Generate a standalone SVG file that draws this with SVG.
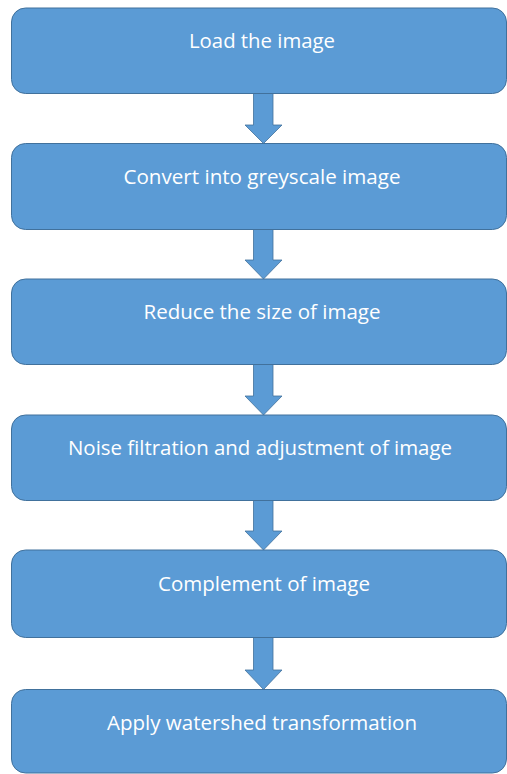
<svg xmlns="http://www.w3.org/2000/svg" width="507" height="774" viewBox="0 0 507 774">
<style>
.box{fill:#5B9BD5;stroke:#41719C;stroke-width:1}
.arr{fill:#5B9BD5;stroke:#41719C;stroke-width:0.8}
.t{font-family:"Open Sans","Noto Sans","Liberation Sans",sans-serif;font-size:19.5px;fill:#FFFFFF;text-anchor:middle}
</style>
<rect width="507" height="774" fill="#FFFFFF"/>
<g id="connectors">
<path class="arr" d="M253.5,93.5 H273 V125 H282 L263.5,143.5 L245,125 H253.5 Z"/>
<path class="arr" d="M253.5,229.5 H273 V260 H282 L263.5,279 L245,260 H253.5 Z"/>
<path class="arr" d="M253.5,364.5 H273 V396 H282 L263.5,415 L245,396 H253.5 Z"/>
<path class="arr" d="M253.5,500.5 H273 V531 H282 L263.5,550 L245,531 H253.5 Z"/>
<path class="arr" d="M253.5,637.5 H273 V670 H282 L263.5,689.5 L245,670 H253.5 Z"/>
</g>
<g id="n1"><rect class="box" x="11.5" y="8" width="495" height="85.5" rx="14"/><text class="t" x="262" y="48" textLength="146" lengthAdjust="spacingAndGlyphs">Load the image</text></g>
<g id="n2"><rect class="box" x="11.5" y="143.5" width="495" height="86" rx="14"/><text class="t" x="262" y="183.5" textLength="277" lengthAdjust="spacingAndGlyphs">Convert into greyscale image</text></g>
<g id="n3"><rect class="box" x="11.5" y="279" width="495" height="85.5" rx="14"/><text class="t" x="262" y="319" textLength="237" lengthAdjust="spacingAndGlyphs">Reduce the size of image</text></g>
<g id="n4"><rect class="box" x="11.5" y="415" width="495" height="85.5" rx="14"/><text class="t" x="260" y="455" textLength="384" lengthAdjust="spacingAndGlyphs">Noise filtration and adjustment of image</text></g>
<g id="n5"><rect class="box" x="11.5" y="550" width="495" height="87.5" rx="14"/><text class="t" x="264" y="591" textLength="212" lengthAdjust="spacingAndGlyphs">Complement of image</text></g>
<g id="n6"><rect class="box" x="11.5" y="689.5" width="495" height="83.5" rx="14"/><text class="t" x="262" y="730" textLength="310" lengthAdjust="spacingAndGlyphs">Apply watershed transformation</text></g>
</svg>
